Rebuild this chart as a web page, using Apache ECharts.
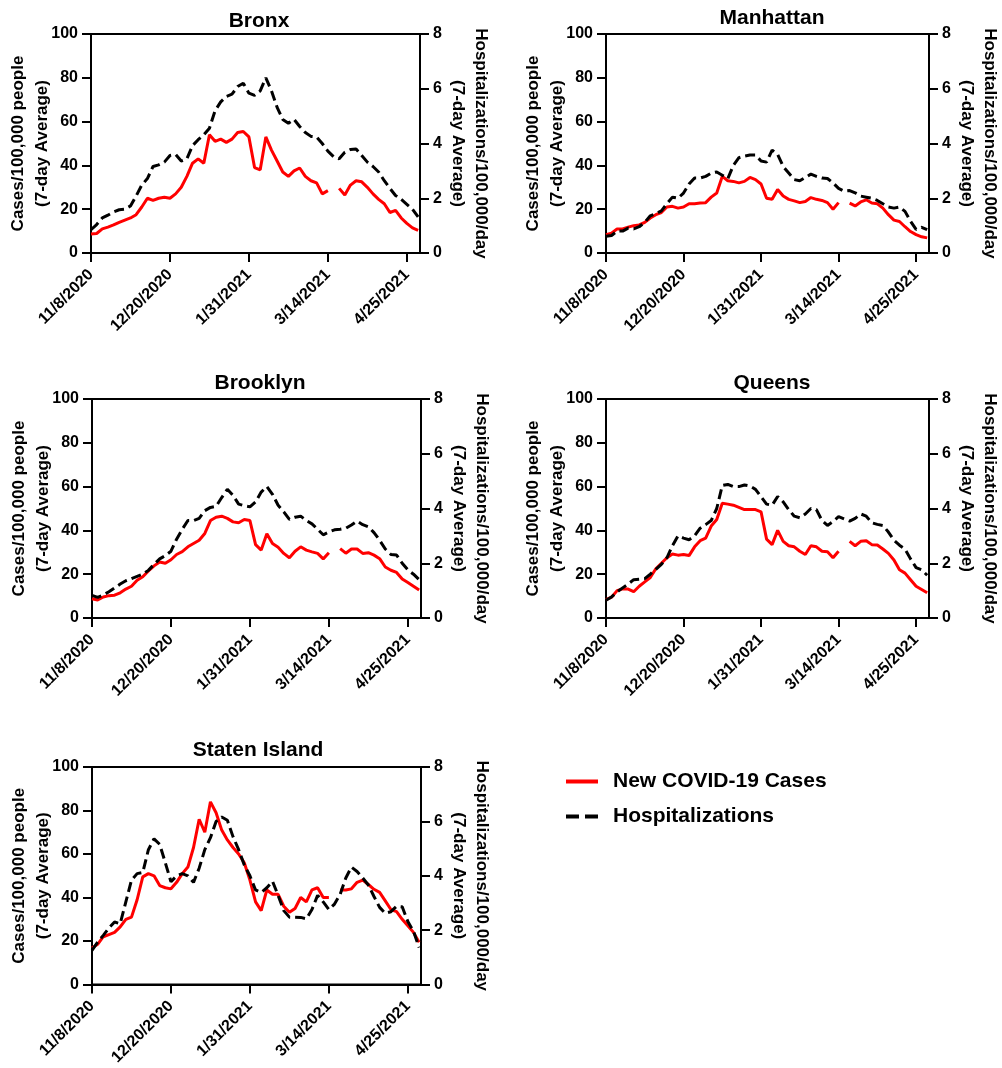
<!DOCTYPE html>
<html><head><meta charset="utf-8">
<script src="https://cdn.jsdelivr.net/npm/echarts@6/dist/echarts.min.js"></script>
<style>html,body{margin:0;padding:0;background:#fff}#c{width:1002px;height:1068px}</style>
</head><body><div id="c"></div>
<script>
// ---- data (day offsets from 11/8/2020) ----
const days = [0,3,6,9,12,15,18,21,24,27,30,33,36,39,42,45,48,51,54,57,60,63,66,69,72,75,78,81,84,87,90,93,96,99,102,105,108,111,114,117,120,123,126,129,132,135,138,141,144,147,150,153,156,159,162,165,168,171,174];
const tickDays = [0,42,84,126,168];
const tickLabels = ['11/8/2020','12/20/2020','1/31/2021','3/14/2021','4/25/2021'];
const boroughs = ['Bronx','Manhattan','Brooklyn','Queens','Staten Island'];
const seriesNames = ['New COVID-19 Cases','Hospitalizations'];

const bronxCases = [8.7,8.9,11,11.8,12.8,14,15,16,17.5,21,25,24,25,25.5,25,27,30,35,41,43,41,54,51,52,50.5,52,55,55.5,53,39,38,53,47,42,37,35,37.5,38.8,35,33,32,27,28.5,null,29.5,26.5,31,33,32.5,30,27,24.5,22.5,18.5,19.5,16,13.5,11.5,10.3];
const bronxHosp = [0.85,1.04,1.28,1.38,1.5,1.58,1.6,1.72,2.08,2.48,2.72,3.16,3.22,3.32,3.56,3.6,3.36,3.44,3.92,4.14,4.32,4.56,5.2,5.52,5.72,5.8,6.08,6.2,5.84,5.76,5.92,6.4,5.92,5.32,4.88,4.74,4.88,4.62,4.4,4.26,4.24,4.0,3.72,3.52,3.44,3.68,3.78,3.8,3.56,3.32,3.16,2.96,2.64,2.36,2.1,1.96,1.78,1.6,1.32];
const manhattanCases = [8.4,9,11,11,11.8,12.5,12.8,14,16,17.5,18.5,21,21.3,20.5,21,22.5,22.5,22.8,23,25.5,27.4,35,33,32.7,32,32.7,34.5,33.5,31.5,25,24.5,29,26,24.5,23.8,23,23.5,25.3,24.5,24,23,20,23,null,22.8,21.5,23.3,24.3,22.8,22.5,20.5,17.5,15,14.4,12,9.8,8.4,7.4,6.9];
const manhattanHosp = [0.61,0.64,0.8,0.8,0.91,0.88,0.96,1.12,1.36,1.44,1.54,1.8,2.04,2.0,2.19,2.52,2.74,2.74,2.8,2.92,2.96,2.84,2.72,3.2,3.48,3.54,3.58,3.58,3.36,3.32,3.76,3.6,3.16,2.92,2.68,2.64,2.76,2.88,2.8,2.74,2.72,2.56,2.36,2.26,2.28,2.2,2.08,2.04,2.0,1.92,1.8,1.68,1.64,1.68,1.52,1.16,0.86,0.94,0.85];
const brooklynCases = [8.8,8.2,9.6,10.2,10.4,11.5,13.2,14.5,17.2,18.8,21.5,23.8,25.6,25,26.6,29,30.3,32.5,34,35.5,38.6,44.5,46,46.5,45.5,43.9,43.5,45,44.5,33.5,31,38.5,34,32.3,29.5,27.5,30.5,32.5,31,30.2,29.5,27,29.8,null,31.7,29.6,31.5,31.5,29.5,29.8,28.7,27.1,23.3,21.8,20.8,17.8,16.2,14.5,12.8];
const brooklynHosp = [0.83,0.75,0.84,0.96,1.1,1.24,1.36,1.44,1.52,1.6,1.74,1.96,2.16,2.28,2.44,2.88,3.24,3.56,3.56,3.64,3.92,4.04,4.08,4.4,4.7,4.48,4.16,4.1,4.06,4.24,4.6,4.8,4.52,4.12,3.88,3.6,3.68,3.72,3.56,3.44,3.24,3.04,3.14,3.22,3.24,3.28,3.4,3.54,3.41,3.33,3.12,2.84,2.52,2.32,2.3,2.0,1.76,1.6,1.4];
const queensCases = [8.4,9.5,12.5,13.3,13.2,12,14.5,16.5,18.5,22.5,25,27.5,29.2,28.7,29,28.5,32.5,35.3,36.5,42,45,52.4,52,51.5,50.5,49.5,49.5,49.5,48.5,36,33.5,40,35,33,32.5,30.5,29,33,32.5,30.5,30.3,27.5,30.5,null,35,33,35,35.3,33.5,33.3,31.5,29.5,26.5,22,20.5,17.5,14.5,13,11.5];
const queensHosp = [0.65,0.77,0.95,1.1,1.24,1.4,1.42,1.44,1.6,1.78,1.96,2.2,2.64,3.0,2.92,2.86,3.0,3.28,3.41,3.56,4.0,4.84,4.88,4.8,4.8,4.86,4.82,4.7,4.43,4.16,4.12,4.44,4.24,3.96,3.72,3.66,3.8,4.0,3.96,3.56,3.38,3.52,3.7,3.62,3.54,3.64,3.8,3.72,3.48,3.42,3.38,3.14,2.84,2.66,2.52,2.16,1.84,1.76,1.56];
const statenCases = [16.8,18.5,22,23,24,26.5,30,31,39,49.5,51,50,45.5,44.5,44,47,51,54,63,76,70,84,79,71,66.5,63,60,56,48,38,34,43.5,41.5,41.5,36,33.2,35,40,38,43.5,44.5,40,40,null,43.5,43.5,44,47,48,46,43.8,42.4,38.5,34.5,33.5,30,27,24,19.5];
const statenHosp = [1.26,1.56,1.81,2.08,2.3,2.24,3.04,3.84,4.08,4.12,4.96,5.36,5.16,4.48,3.78,4.0,4.08,4.0,3.76,4.28,4.96,5.4,6.0,6.16,6.04,5.44,4.96,4.4,4.0,3.48,3.39,3.56,3.8,3.28,2.72,2.48,2.48,2.47,2.42,2.76,3.28,3.04,2.76,2.96,3.32,3.92,4.32,4.16,3.92,3.66,3.24,2.84,2.62,2.68,2.88,2.86,2.32,1.96,1.36];

const casesList = [bronxCases, manhattanCases, brooklynCases, queensCases, statenCases];
const hospList = [bronxHosp, manhattanHosp, brooklynHosp, queensHosp, statenHosp];

// ---- layout / style ----
const panels = [
  {left:91, top:34, width:329, height:219, tx:254, ty:6},
  {left:606, top:34, width:328, height:219, tx:767, ty:3},
  {left:92, top:399, width:329, height:219, tx:255, ty:368},
  {left:606, top:399, width:328, height:219, tx:767, ty:368},
  {left:92, top:767, width:329, height:219, tx:253, ty:735}
];
const FONT = "'Liberation Sans', Arial, Helvetica, sans-serif";
const RED = '#ff0000';
const axisLine = {show:true, onZero:false, lineStyle:{color:'#000', width:2}};
const axisTick = {show:true, length:9, lineStyle:{color:'#000', width:2}};

const option = {
  animation:false,
  backgroundColor:'#fff',
  title: panels.map((p,i)=>({text:boroughs[i], left:p.tx, top:p.ty, textAlign:'center',
    textStyle:{fontFamily:FONT, fontWeight:'bold', fontSize:21, color:'#000'}})),
  legend: {
    orient:'vertical', left:559, top:766, itemWidth:32, itemHeight:14, itemGap:14,
    textStyle:{fontFamily:FONT, fontWeight:'bold', fontSize:21, color:'#000', padding:[0,0,0,10]},
    data:[
      {name:seriesNames[0], itemStyle:{opacity:0}, lineStyle:{color:RED, width:4, type:'solid'}},
      {name:seriesNames[1], itemStyle:{opacity:0}, lineStyle:{color:'#000', width:4, type:[13,6]}}
    ]
  },
  grid: panels.map(p=>({left:p.left, top:p.top, width:p.width, height:p.height, show:true, borderColor:'#000', borderWidth:2, backgroundColor:'transparent', containLabel:false})),
  xAxis: panels.map((p,i)=>({
    gridIndex:i, type:'value', min:0, max:175, interval:42,
    axisLine, splitLine:{show:false},
    axisTick:Object.assign({customValues:tickDays}, axisTick),
    axisLabel:{customValues:tickDays, rotate:45, margin:19, fontFamily:FONT, fontWeight:'bold', fontSize:16, color:'#000',
      formatter:v=>{const k=tickDays.indexOf(v); return k>=0?tickLabels[k]:'';}}
  })),
  yAxis: [],
  series: []
};
panels.forEach((p,i)=>{
  option.yAxis.push({
    gridIndex:i, type:'value', position:'left', min:0, max:100, interval:20,
    axisLine, axisTick, splitLine:{show:false},
    axisLabel:{margin:13, fontFamily:FONT, fontWeight:'bold', fontSize:16, color:'#000'},
    name:'Cases/100,000 people\n(7-day Average)', nameLocation:'middle', nameRotate:90, nameGap:37, nameMoveOverlap:false,
    nameTextStyle:{fontFamily:FONT, fontWeight:'bold', fontSize:17, lineHeight:24, color:'#000'}
  });
  option.yAxis.push({
    gridIndex:i, type:'value', position:'right', min:0, max:8, interval:2,
    axisLine, axisTick, splitLine:{show:false},
    axisLabel:{margin:13, fontFamily:FONT, fontWeight:'bold', fontSize:16, color:'#000'},
    name:'Hospitalizations/100,000/day\n(7-day Average)', nameLocation:'middle', nameRotate:-90, nameGap:26, nameMoveOverlap:false,
    nameTextStyle:{fontFamily:FONT, fontWeight:'bold', fontSize:17, lineHeight:23, color:'#000'}
  });
  option.series.push({
    name:seriesNames[0], type:'line', xAxisIndex:i, yAxisIndex:2*i, symbol:'none', connectNulls:false,
    lineStyle:{color:RED, width:3}, itemStyle:{color:RED},
    data: days.map((d,k)=>[d, casesList[i][k]])
  });
  option.series.push({
    name:seriesNames[1], type:'line', xAxisIndex:i, yAxisIndex:2*i+1, symbol:'none',
    lineStyle:{color:'#000', width:3, type:[10,5]}, itemStyle:{color:'#000'},
    data: days.map((d,k)=>[d, hospList[i][k]])
  });
});
const chart = echarts.init(document.getElementById('c'), null, {renderer:'canvas'});
chart.setOption(option);
</script></body></html>
